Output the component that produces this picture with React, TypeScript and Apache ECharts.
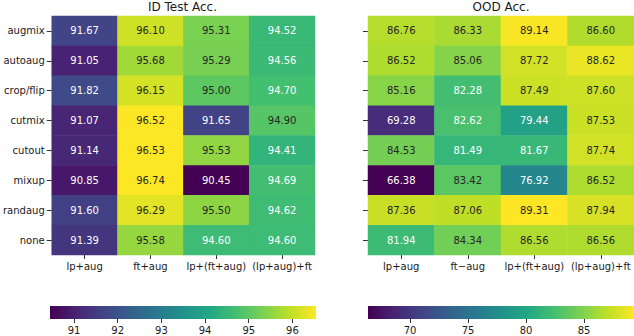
import React, { useEffect, useRef } from "react";
import * as echarts from "echarts";

const rows = ["augmix", "autoaug", "crop/flip", "cutmix", "cutout", "mixup", "randaug", "none"];
const idCols = ["lp+aug", "ft+aug", "lp+(ft+aug)", "(lp+aug)+ft"];
const oodCols = ["lp+aug", "ft−aug", "lp+(ft+aug)", "(lp+aug)+ft"];

const idValues = [
  [91.67, 96.10, 95.31, 94.52],
  [91.05, 95.68, 95.29, 94.56],
  [91.82, 96.15, 95.00, 94.70],
  [91.07, 96.52, 91.65, 94.90],
  [91.14, 96.53, 95.53, 94.41],
  [90.85, 96.74, 90.45, 94.69],
  [91.60, 96.29, 95.50, 94.62],
  [91.39, 95.58, 94.60, 94.60],
];

const oodValues = [
  [86.76, 86.33, 89.14, 86.60],
  [86.52, 85.06, 87.72, 88.62],
  [85.16, 82.28, 87.49, 87.60],
  [69.28, 82.62, 79.44, 87.53],
  [84.53, 81.49, 81.67, 87.74],
  [66.38, 83.42, 76.92, 86.52],
  [87.36, 87.06, 89.31, 87.94],
  [81.94, 84.34, 86.56, 86.56],
];

const idRange = [90.45, 96.54];
const oodRange = [66.38, 89.31];
const idTicks = [91, 92, 93, 94, 95, 96];
const oodTicks = [70, 75, 80, 85];

const viridis = [
  "#440154", "#482475", "#414487", "#355f8d", "#2a788e",
  "#21918c", "#22a884", "#44bf70", "#7ad151", "#bddf26", "#fde725",
];

const FONT = "DejaVu Sans";
const TEXT = "#1a1a1a";

function cells(values: number[][], range: number[]) {
  const out: any[] = [];
  values.forEach((row, r) => {
    row.forEach((v, c) => {
      const t = (v - range[0]) / (range[1] - range[0]);
      out.push({
        value: [c, r, v],
        label: { color: t >= 0.715 ? "#262626" : "#ffffff" },
      });
    });
  });
  return out;
}

function colorbarItem(params: any, api: any) {
  const a = api.coord([api.value(0), 0]);
  const b = api.coord([api.value(1), 1]);
  const stops = viridis.map((c, i) => ({ offset: i / (viridis.length - 1), color: c }));
  return {
    type: "rect",
    shape: { x: a[0], y: b[1], width: b[0] - a[0], height: a[1] - b[1] },
    style: { fill: new echarts.graphic.LinearGradient(0, 0, 1, 0, stops) },
  };
}

function catX(data: string[], gridIndex: number) {
  return {
    type: "category",
    gridIndex,
    data,
    position: "bottom",
    axisLine: { show: false },
    axisTick: { show: true, alignWithLabel: true, length: 4, lineStyle: { color: "#333" } },
    axisLabel: { margin: 6, fontSize: 10, fontFamily: FONT, color: TEXT, interval: 0 },
    splitLine: { show: false },
  };
}

function catY(gridIndex: number, showLabels: boolean) {
  return {
    type: "category",
    gridIndex,
    data: rows,
    inverse: true,
    axisLine: { show: false },
    axisTick: { show: true, alignWithLabel: true, length: 5, lineStyle: { color: "#333" } },
    axisLabel: { show: showLabels, margin: 7, fontSize: 10, fontFamily: FONT, color: TEXT, interval: 0 },
    splitLine: { show: false },
  };
}

function cbX(gridIndex: number, range: number[], ticks: number[]) {
  return {
    type: "value",
    gridIndex,
    min: range[0],
    max: range[1],
    axisLine: { show: false },
    splitLine: { show: false },
    axisTick: { show: true, customValues: ticks, length: 4, lineStyle: { color: "#333" } },
    axisLabel: { customValues: ticks, margin: 6, fontSize: 10, fontFamily: FONT, color: TEXT },
  };
}

function cbY(gridIndex: number) {
  return { type: "value", gridIndex, min: 0, max: 1, show: false };
}

export default function App() {
  const ref = useRef<HTMLDivElement>(null);
  useEffect(() => {
    document.body.style.margin = "0";
    const chart = echarts.init(ref.current!, null, { renderer: "svg" });
    const heatLabel = {
      show: true,
      fontSize: 10,
      fontFamily: FONT,
      formatter: (p: any) => p.value[2].toFixed(2),
    };
    chart.setOption({
      animation: false,
      backgroundColor: "#ffffff",
      textStyle: { fontFamily: FONT },
      graphic: [
        {
          type: "text",
          x: 182.5,
          y: 7,
          style: { text: "ID Test Acc.", align: "center", verticalAlign: "middle", fontSize: 12, fontFamily: FONT, fill: TEXT },
        },
        {
          type: "text",
          x: 501,
          y: 7,
          style: { text: "OOD Acc.", align: "center", verticalAlign: "middle", fontSize: 12, fontFamily: FONT, fill: TEXT },
        },
      ],
      grid: [
        { left: 50, top: 16, width: 265, height: 239 },
        { left: 368, top: 16, width: 266, height: 239 },
        { left: 50, top: 306, width: 266, height: 13 },
        { left: 368, top: 306, width: 266, height: 13 },
      ],
      xAxis: [catX(idCols, 0), catX(oodCols, 1), cbX(2, idRange, idTicks), cbX(3, oodRange, oodTicks)],
      yAxis: [catY(0, true), catY(1, false), cbY(2), cbY(3)],
      visualMap: [
        { type: "continuous", show: false, seriesIndex: 0, dimension: 2, min: idRange[0], max: idRange[1], inRange: { color: viridis } },
        { type: "continuous", show: false, seriesIndex: 1, dimension: 2, min: oodRange[0], max: oodRange[1], inRange: { color: viridis } },
      ],
      series: [
        {
          type: "heatmap",
          xAxisIndex: 0,
          yAxisIndex: 0,
          data: cells(idValues, idRange),
          label: heatLabel,
          emphasis: { disabled: true },
          silent: true,
        },
        {
          type: "heatmap",
          xAxisIndex: 1,
          yAxisIndex: 1,
          data: cells(oodValues, oodRange),
          label: heatLabel,
          emphasis: { disabled: true },
          silent: true,
        },
        {
          type: "custom",
          xAxisIndex: 2,
          yAxisIndex: 2,
          data: [[idRange[0], idRange[1]]],
          renderItem: colorbarItem,
          silent: true,
        },
        {
          type: "custom",
          xAxisIndex: 3,
          yAxisIndex: 3,
          data: [[oodRange[0], oodRange[1]]],
          renderItem: colorbarItem,
          silent: true,
        },
      ],
    });
    return () => chart.dispose();
  }, []);
  return <div ref={ref} style={{ position: "absolute", left: 0, top: 0, width: 634, height: 336 }} />;
}
